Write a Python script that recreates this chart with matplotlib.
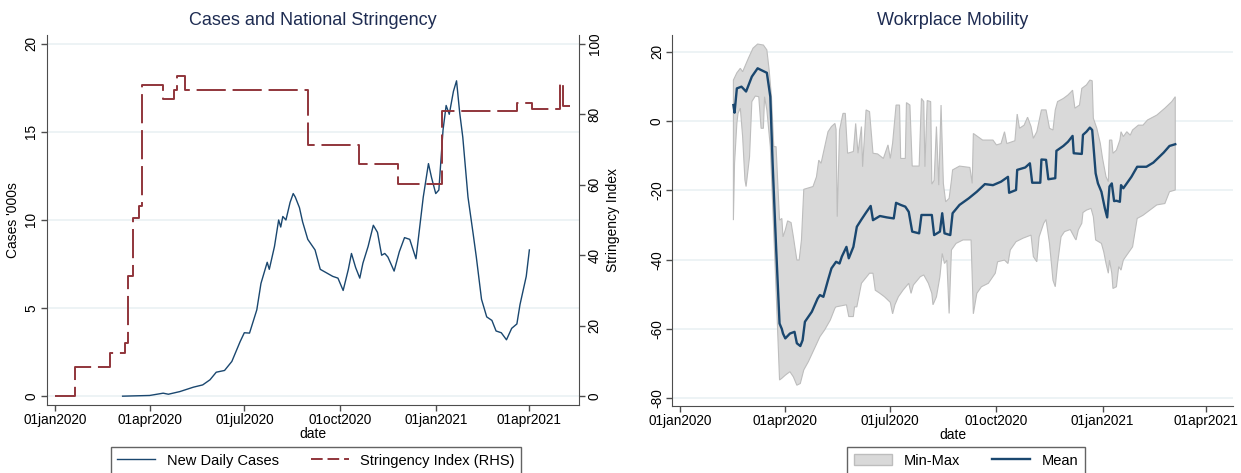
import numpy as np
import matplotlib
matplotlib.use("Agg")
import matplotlib.pyplot as plt
from matplotlib.lines import Line2D
from matplotlib.patches import Patch

plt.rcParams['font.family'] = ['Liberation Sans', 'DejaVu Sans']
plt.rcParams['axes.unicode_minus'] = False

# days are counted from 01jan2020
base = np.datetime64('2020-01-01')

# new daily cases, thousands (7-day average)
case_days = [65, 91, 104, 109, 120, 133, 142, 149, 155, 163, 170, 178, 182, 187,
             194, 198, 204, 206, 211, 215, 217, 219, 222, 226, 229, 231, 235, 238,
             243, 250, 255, 261, 267, 272, 277, 282, 285, 289, 293, 296, 301, 306,
             310, 314, 317, 320, 326, 331, 336, 341, 347, 354, 359, 362, 366, 369,
             373, 376, 379, 383, 386, 389, 392, 397, 402, 405, 410, 415, 420, 424,
             429, 434, 439, 444, 447, 453, 456]
cases = [0.0, 0.04, 0.17, 0.11, 0.26, 0.51, 0.64, 0.93, 1.36, 1.46, 1.97, 3.1, 3.6, 3.58,
         4.9, 6.4, 7.6, 7.2, 8.5, 10.0, 9.6, 10.2, 10.0, 11.0, 11.5, 11.3, 10.7, 9.9,
         8.9, 8.3, 7.2, 7.0, 6.8, 6.7, 6.0, 7.2, 8.1, 7.3, 6.7, 7.55, 8.5, 9.7,
         9.3, 8.0, 8.1, 7.9, 7.1, 8.2, 9.0, 8.9, 7.8, 11.3, 13.2, 12.4, 11.5, 11.7,
         15.1, 16.5, 16.0, 17.3, 17.9, 16.1, 14.7, 11.3, 9.2, 7.9, 5.5, 4.5, 4.3, 3.7,
         3.6, 3.2, 3.85, 4.1, 5.2, 6.8, 8.3]

# national stringency index (changes take effect on the listed day)
strin_days = [0, 19, 53, 67, 70, 75, 81, 84, 104, 114, 117, 125, 243, 292, 330,
              372, 444, 459, 485, 488, 495]
stringency = [0, 8.3, 12.2, 15.0, 34.2, 50.5, 53.9, 88.2, 84.3, 87.0, 90.8, 87.0,
              71.4, 65.9, 60.2, 81.0, 83.2, 81.5, 88.9, 82.4, 82.4]

# workplace mobility: mean across regions
mean_days = [46, 47, 49, 53, 57, 62, 67, 70, 75, 78, 80, 83, 86, 88, 89, 91, 95, 99,
             101, 104, 106, 108, 114, 119, 121, 124, 128, 131, 135, 138, 140, 144,
             146, 150, 153, 157, 161, 165, 167, 173, 179, 185, 187, 191, 195, 198,
             201, 207, 209, 218, 220, 225, 227, 229, 234, 236, 242, 250, 257, 264,
             271, 278, 284, 285, 291, 292, 299, 303, 305, 312, 313, 317, 319, 325,
             326, 332, 336, 340, 341, 348, 349, 352, 355, 357, 360, 362, 365, 368,
             370, 372, 374, 376, 378, 381, 382, 384, 391, 396, 404, 410, 419, 424, 429]
mob_mean = [4.6, 2.4, 9.4, 9.9, 8.5, 12.8, 15.2, 14.7, 13.9, 7.0, -12.2, -36.3, -58.4,
            -60.0, -61.3, -62.7, -61.3, -60.8, -64.1, -64.9, -63.2, -57.9, -55.0, -51.2,
            -50.2, -50.7, -45.9, -42.5, -40.6, -41.1, -39.1, -36.3, -39.6, -36.3, -30.5,
            -28.4, -26.4, -24.5, -28.6, -27.4, -27.8, -28.1, -23.6, -24.2, -24.7, -26.2,
            -31.9, -32.4, -27.1, -27.1, -32.9, -31.9, -26.6, -32.4, -32.9, -26.6, -24.2,
            -22.3, -20.4, -18.2, -18.5, -17.5, -16.1, -20.7, -19.9, -14.1, -13.4, -12.2,
            -17.8, -17.8, -11.1, -11.2, -16.8, -16.5, -8.6, -7.2, -6.0, -4.3, -9.3, -9.5,
            -4.0, -3.1, -1.9, -2.6, -15.1, -18.0, -20.4, -25.2, -27.8, -18.9, -18.0,
            -23.1, -23.0, -23.3, -18.5, -19.4, -16.1, -13.2, -13.2, -12.0, -9.1, -7.2, -6.7]

# workplace mobility: regional maximum
max_days = [46, 49, 52, 54, 59, 63, 67, 72, 75, 77, 79, 81, 83, 85, 86, 88, 89, 91, 93,
            96, 98, 101, 103, 105, 107, 115, 118, 120, 122, 128, 131, 134, 135, 136,
            138, 141, 143, 145, 150, 152, 154, 157, 158, 161, 164, 167, 171, 176, 180,
            182, 184, 187, 190, 191, 195, 196, 199, 201, 207, 209, 211, 212, 214, 217,
            218, 220, 222, 224, 226, 228, 230, 233, 235, 236, 242, 251, 253, 254, 262,
            271, 274, 278, 281, 283, 290, 292, 294, 298, 301, 304, 306, 309, 313, 317,
            320, 323, 325, 327, 332, 336, 339, 340, 342, 346, 348, 352, 355, 357, 358,
            361, 364, 366, 369, 371, 372, 374, 375, 378, 381, 382, 384, 387, 390, 392,
            397, 401, 405, 413, 420, 426, 429]
mob_max = [11.8, 13.9, 15.2, 14.2, 18.1, 21.0, 22.2, 21.9, 20.5, 14.7, 7.0, -7.4, -7.4,
           -21.8, -28.6, -28.1, -33.4, -31.4, -28.8, -29.3, -33.4, -40.1, -40.1, -34.3,
           -19.7, -18.9, -16.1, -11.3, -12.2, -3.1, -1.6, -0.7, -2.4, -27.6, -2.6, 2.2,
           2.2, -9.3, -8.8, -0.7, -9.3, -1.6, -13.2, 3.2, 2.7, -9.3, -9.5, -10.8, -6.9,
           -10.8, -6.4, 4.6, 4.6, -10.8, -10.8, 5.3, 4.6, -13.0, -13.0, 6.5, 5.6, -13.2,
           5.9, 5.6, -18.2, -17.1, -1.6, -18.5, 4.6, -18.0, -23.3, -22.3, -17.1, -14.1,
           -13.0, -13.4, -18.0, -3.6, -5.5, -5.5, -6.9, -6.5, -3.1, -6.5, -5.7, 2.0,
           -2.1, -1.2, 1.1, -1.6, -5.0, -3.1, 3.2, 3.2, -2.1, -2.6, 3.2, 5.6, 6.5, 7.5,
           8.5, 8.9, 3.7, 4.6, 9.4, 10.4, 11.8, 11.6, 0.8, -2.1, -6.4, -10.8, -16.1,
           -17.5, -5.5, -5.5, -9.3, -8.4, -5.5, -3.1, -4.5, -3.1, -4.1, -2.6, -1.2, -1.2,
           0.3, 1.7, 3.7, 5.6, 7.0]

# workplace mobility: regional minimum
min_days = [46, 47, 49, 50, 52, 54, 56, 57, 60, 62, 65, 68, 70, 72, 73, 75, 78, 80, 83,
            86, 88, 91, 95, 98, 101, 104, 107, 111, 117, 121, 125, 130, 134, 135, 144,
            146, 150, 151, 153, 157, 164, 167, 169, 173, 177, 182, 184, 186, 189, 193,
            198, 200, 202, 208, 211, 215, 218, 219, 222, 225, 227, 229, 231, 233, 235,
            239, 245, 252, 254, 257, 261, 267, 273, 275, 281, 284, 286, 291, 297, 304,
            306, 309, 311, 315, 317, 320, 323, 325, 327, 330, 333, 338, 342, 343, 345,
            348, 349, 352, 356, 358, 360, 365, 367, 369, 371, 372, 374, 375, 378, 380,
            382, 384, 388, 392, 396, 401, 407, 413, 420, 424, 429]
mob_min = [-28.6, -12.2, -0.7, 2.2, 3.7, -4.5, -17.0, -18.9, -10.3, 5.6, 7.2, 7.0, -2.1,
           -2.1, 7.0, 3.2, -7.4, -23.8, -48.8, -74.7, -74.2, -73.3, -72.3, -73.8, -76.2,
           -75.7, -71.8, -69.4, -65.1, -62.2, -60.3, -57.4, -54.0, -53.6, -53.0, -56.4,
           -56.4, -53.6, -53.6, -46.8, -43.9, -43.9, -48.8, -49.7, -50.7, -52.3, -55.6,
           -53.0, -50.7, -48.8, -46.8, -49.7, -47.3, -44.9, -44.4, -46.8, -49.7, -53.0,
           -50.7, -44.9, -38.2, -41.1, -40.1, -55.5, -37.2, -35.3, -34.3, -34.3, -55.6,
           -49.7, -47.8, -46.8, -43.9, -40.6, -40.1, -41.1, -37.2, -34.8, -33.8, -32.9,
           -39.1, -40.6, -33.4, -29.5, -28.4, -35.3, -45.9, -47.8, -41.1, -33.4, -31.9,
           -31.3, -33.8, -34.3, -31.4, -29.5, -26.4, -25.7, -25.2, -27.6, -34.3, -35.3,
           -37.7, -41.1, -43.9, -40.1, -43.9, -48.3, -47.8, -42.0, -43.0, -40.1, -38.2,
           -36.3, -28.1, -27.2, -25.7, -24.2, -23.8, -20.4, -19.9]

tick_dates = ['2020-01-01', '2020-04-01', '2020-07-01', '2020-10-01', '2021-01-01', '2021-04-01']
tick_labels = ['01jan2020', '01apr2020', '01jul2020', '01oct2020', '01jan2021', '01apr2021']


def to_dates(days):
    return base + np.array(days).astype('timedelta64[D]')


NAVY = '#1a476f'
MAROON = '#90353b'
TITLE = '#1e2c52'
SPINE = '#4d4d4d'
GRID = '#e8f0f2'


def style_axis(ax, xlim):
    ax.set_xlim(base + np.timedelta64(xlim[0], 'D'), base + np.timedelta64(xlim[1], 'D'))
    ax.set_xticks(np.array(tick_dates, dtype='datetime64[D]'))
    ax.set_xticklabels(tick_labels)
    ax.tick_params(direction='out', length=4, width=1, color=SPINE,
                   labelsize=9.8, pad=2)
    ax.tick_params(axis='y', labelrotation=90)
    for lab in ax.get_yticklabels():
        lab.set_va('center')
    ax.grid(axis='y', color=GRID, lw=1.1)
    ax.set_axisbelow(True)
    for s in ['top', 'right']:
        ax.spines[s].set_visible(False)
    for s in ['left', 'bottom']:
        ax.spines[s].set_color(SPINE)
    ax.set_xlabel('date', fontsize=10, labelpad=0)


def add_legend(handles, labels, xc):
    fig.legend(handles=handles, labels=labels, loc='upper center',
               bbox_to_anchor=(xc, 0.055), borderaxespad=0, ncol=2,
               fontsize=10.5, frameon=True, fancybox=False, edgecolor='#3c3c3c',
               handlelength=2.6, columnspacing=2.2, borderpad=0.45)


fig = plt.figure(figsize=(12.41, 4.73), dpi=100)

# left panel: cases with stringency on the right-hand axis
ax1 = fig.add_axes([0.0376, 0.1438, 0.4292, 0.7822])
ax1.plot(to_dates(case_days), cases, color=NAVY, lw=1.0)
ax1.set_ylim(-0.5, 20.5)
ax1.set_yticks([0, 5, 10, 15, 20])
style_axis(ax1, (-8, 504))
ax1.set_ylabel("Cases '000s", fontsize=10, labelpad=3)
ax1.set_title('Cases and National Stringency', fontsize=13, color=TITLE, pad=7)

ax2 = ax1.twinx()
ax2.step(to_dates(strin_days), stringency, where='post', color=MAROON, lw=1.4,
         dashes=[15, 3.5])
ax2.set_ylim(-2.5, 102.5)
ax2.set_yticks([0, 20, 40, 60, 80, 100])
ax2.tick_params(direction='out', length=4, width=1, color=SPINE, labelsize=9.8,
                pad=2, labelrotation=90)
for lab in ax2.get_yticklabels():
    lab.set_va('center')
for s in ['top', 'left', 'bottom']:
    ax2.spines[s].set_visible(False)
ax2.spines['right'].set_color(SPINE)
ax2.set_ylabel('Stringency Index', fontsize=10, labelpad=3)

add_legend([Line2D([], [], color=NAVY, lw=1.0),
            Line2D([], [], color=MAROON, lw=1.4, dashes=[6, 2.5])],
           ['New Daily Cases', 'Stringency Index (RHS)'], 0.2546)

# right panel: workplace mobility band and mean
ax3 = fig.add_axes([0.5417, 0.1416, 0.4518, 0.7844])
band_x = np.concatenate([to_dates(max_days), to_dates(min_days)[::-1]])
band_y = np.concatenate([mob_max, mob_min[::-1]])
ax3.fill(band_x, band_y, facecolor='#d9d9d9', edgecolor='#bdbdbd', lw=0.8)
ax3.plot(to_dates(mean_days), mob_mean, color=NAVY, lw=1.7)
ax3.set_ylim(-82.2, 24.8)
ax3.set_yticks([-80, -60, -40, -20, 0, 20])
style_axis(ax3, (-7, 479))
ax3.set_title('Wokrplace Mobility', fontsize=13, color=TITLE, pad=7)

add_legend([Patch(facecolor='#d9d9d9', edgecolor='#bdbdbd'),
            Line2D([], [], color=NAVY, lw=1.7)],
           ['Min-Max', 'Mean'], 0.7784)

fig.savefig('out.png', dpi=100)
